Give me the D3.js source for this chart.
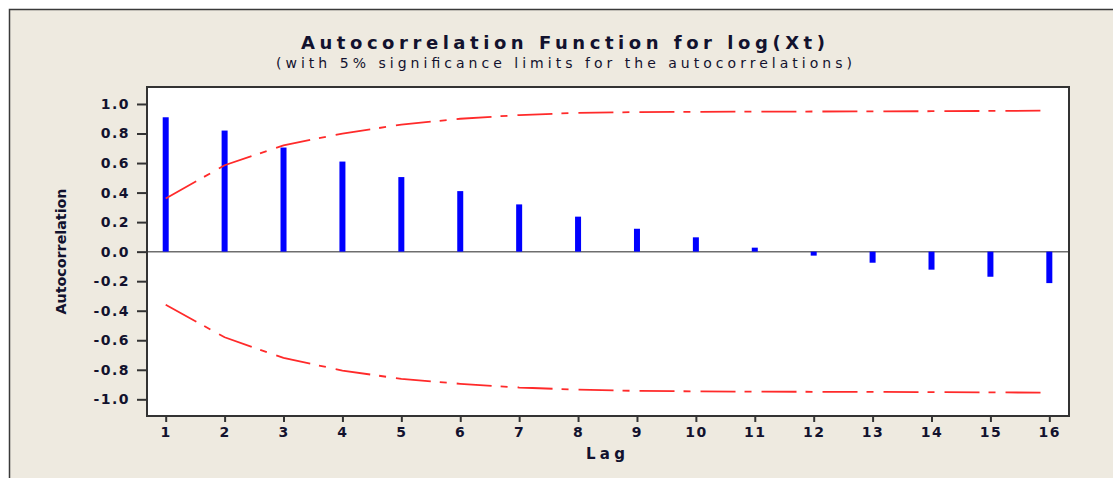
<!DOCTYPE html>
<html>
<head>
<meta charset="utf-8">
<script src="https://cdn.jsdelivr.net/npm/d3@7"></script>
<style>
  body { margin: 0; background: #fff; }
  svg text { font-family: "DejaVu Sans", Verdana, sans-serif; fill: #12122e; }
</style>
</head>
<body>
<div id="chart"></div>
<script>
// values
var lags = [1, 2, 3, 4, 5, 6, 7, 8, 9, 10, 11, 12, 13, 14, 15, 16];
var acf = [0.91, 0.82, 0.705, 0.61, 0.505, 0.41, 0.32, 0.237, 0.155, 0.097, 0.027, -0.027, -0.075, -0.122, -0.17, -0.213];
var upper = [0.36, 0.585, 0.72, 0.80, 0.86, 0.90, 0.925, 0.94, 0.945, 0.947, 0.948, 0.949, 0.95, 0.951, 0.953, 0.955];
var lower = [-0.36, -0.58, -0.72, -0.805, -0.862, -0.895, -0.92, -0.935, -0.943, -0.946, -0.948, -0.949, -0.95, -0.951, -0.953, -0.955];
var yTicks = [-1.0, -0.8, -0.6, -0.4, -0.2, 0.0, 0.2, 0.4, 0.6, 0.8, 1.0];

var W = 1113, H = 478;
var plot = {left: 147, top: 87, right: 1069, bottom: 416};

var svg = d3.select("#chart")
  .append("svg")
  .attr("width", W)
  .attr("height", H);

// outer frame
svg.append("rect")
  .attr("x", 9.5).attr("y", 9.5)
  .attr("width", 1120).attr("height", 500)
  .attr("fill", "#eeeae0")
  .attr("stroke", "#3a3a3a")
  .attr("stroke-width", 1.5);

var xScale = d3.scaleLinear()
  .domain([0.6825, 16.334])
  .range([plot.left, plot.right]);

var yScale = d3.scaleLinear()
  .domain([-1.113, 1.115])
  .range([plot.bottom, plot.top]);

// plot background
svg.append("rect")
  .attr("x", plot.left).attr("y", plot.top)
  .attr("width", plot.right - plot.left)
  .attr("height", plot.bottom - plot.top)
  .attr("fill", "#fff");

// zero line
svg.append("line")
  .attr("x1", plot.left).attr("x2", plot.right)
  .attr("y1", yScale(0)).attr("y2", yScale(0))
  .attr("stroke", "#6e6e6e")
  .attr("stroke-width", 1.5);

// bars
svg.selectAll(".bar")
  .data(lags)
  .enter()
  .append("rect")
  .attr("class", "bar")
  .attr("x", function(d) { return xScale(d) - 3; })
  .attr("width", 6)
  .attr("y", function(d, i) { return yScale(Math.max(0, acf[i])); })
  .attr("height", function(d, i) { return Math.abs(yScale(acf[i]) - yScale(0)); })
  .attr("fill", "#0000ff");

// significance limits
var limLine = d3.line()
  .x(function(d) { return xScale(d[0]); })
  .y(function(d) { return yScale(d[1]); });

[upper, lower].forEach(function(lim) {
  svg.append("path")
    .datum(lags.map(function(l, i) { return [l, lim[i]]; }))
    .attr("d", limLine)
    .attr("fill", "none")
    .attr("stroke", "#ff2a2a")
    .attr("stroke-width", 1.8)
    .attr("stroke-dasharray", "35,9,7,10");
});

// plot border
svg.append("rect")
  .attr("x", plot.left).attr("y", plot.top)
  .attr("width", plot.right - plot.left)
  .attr("height", plot.bottom - plot.top)
  .attr("fill", "none")
  .attr("stroke", "#333")
  .attr("stroke-width", 2);

// axes
var yAxis = svg.append("g")
  .attr("transform", "translate(" + plot.left + ",0)")
  .call(d3.axisLeft(yScale)
    .tickValues(yTicks)
    .tickSize(10)
    .tickSizeOuter(0)
    .tickPadding(7)
    .tickFormat(function(d) { return d.toFixed(1); }));

var xAxis = svg.append("g")
  .attr("transform", "translate(0," + plot.bottom + ")")
  .call(d3.axisBottom(xScale)
    .tickValues(lags)
    .tickSize(6)
    .tickSizeOuter(0)
    .tickPadding(5)
    .tickFormat(d3.format("d")));

[yAxis, xAxis].forEach(function(ax) {
  ax.select(".domain").remove();
  ax.selectAll(".tick line").attr("stroke", "#333").attr("stroke-width", 2);
  ax.selectAll(".tick text")
    .attr("fill", "#12122e")
    .style("font-family", "DejaVu Sans, sans-serif")
    .style("font-size", "14px")
    .style("font-weight", "bold")
    .style("letter-spacing", "1.5px");
});

// titles
svg.append("text")
  .attr("x", 301).attr("y", 49)
  .attr("textLength", 524)
  .attr("lengthAdjust", "spacing")
  .style("font-size", "18px")
  .style("font-weight", "bold")
  .text("Autocorrelation Function for log(Xt)");

svg.append("text")
  .attr("x", 276).attr("y", 68)
  .attr("textLength", 576)
  .attr("lengthAdjust", "spacing")
  .style("font-size", "14px")
  .text("(with 5% significance limits for the autocorrelations)");

svg.append("text")
  .attr("x", 586).attr("y", 459)
  .attr("textLength", 39)
  .attr("lengthAdjust", "spacing")
  .style("font-size", "15px")
  .style("font-weight", "bold")
  .text("Lag");

svg.append("text")
  .attr("transform", "translate(66," + ((plot.top + plot.bottom) / 2) + ") rotate(-90)")
  .attr("text-anchor", "middle")
  .attr("textLength", 126)
  .attr("lengthAdjust", "spacingAndGlyphs")
  .style("font-family", "'Liberation Sans Narrow', 'DejaVu Sans Condensed', sans-serif")
  .style("font-size", "14px")
  .style("font-weight", "bold")
  .text("Autocorrelation");
</script>
</body>
</html>
